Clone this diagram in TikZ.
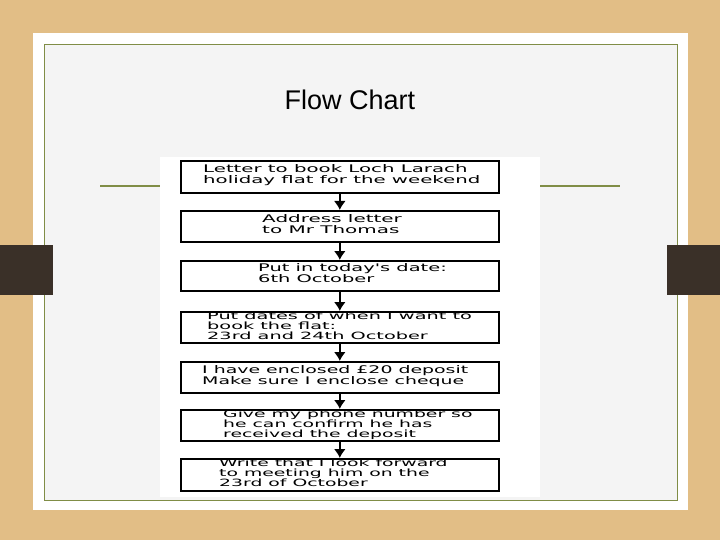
\documentclass[tikz,border=0pt]{standalone}
\usepackage{fontspec}
\usepackage{graphicx}
\usetikzlibrary{arrows.meta}
\setmainfont{Liberation Sans}
\newfontfamily\boxfont{DejaVu Sans}
\newcommand\ltxt[2]{\scalebox{#1}[1]{\begin{tabular}{@{}l@{}}#2\end{tabular}}}
\begin{document}
\begin{tikzpicture}[x=1pt,y=-1pt,
  stepbox/.style={draw=black,line width=1.6pt,minimum width=318pt,anchor=north west,inner sep=0pt},
  txt/.style={anchor=west,align=left,font=\boxfont\fontsize{10.5}{11}\selectfont,inner sep=0pt},
  txtt/.style={txt,font=\boxfont\fontsize{10}{8.8}\selectfont},
  arr/.style={-{Latex[length=9pt,width=12pt]},line width=2.2pt}]
\fill[color={rgb,255:red,226;green,190;blue,134}] (0,0) rectangle (720,540);
\fill[white] (33,33) rectangle (688,510);
\fill[color={rgb,255:red,244;green,244;blue,244}] (44,44) rectangle (677,500);
\draw[color={rgb,255:red,128;green,141;blue,70},line width=0.8pt] (44,44) rectangle (677,500);
\draw[color={rgb,255:red,128;green,141;blue,70},line width=1.6pt] (100,186) -- (620,186);
\fill[color={rgb,255:red,58;green,48;blue,40}] (0,245) rectangle (53,295);
\fill[color={rgb,255:red,58;green,48;blue,40}] (667,245) rectangle (720,295);
\node[anchor=center,font=\fontsize{27}{30}\selectfont] (title) at (350,100) {Flow Chart};
\fill[white] (160,157) rectangle (540,497);
\node[stepbox,minimum height=32pt] (b1) at (180,160) {};
\node[stepbox,minimum height=31pt] (b2) at (180,210) {};
\node[stepbox,minimum height=30pt] (b3) at (180,260) {};
\node[stepbox,minimum height=31pt] (b4) at (180,311) {};
\node[stepbox,minimum height=31pt] (b5) at (180,361) {};
\node[stepbox,minimum height=31pt] (b6) at (180,409) {};
\node[stepbox,minimum height=32pt] (b7) at (180,458) {};
\node[txt] (t1) at (203,176) {\ltxt{1.88}{Letter to book Loch Larach\\holiday flat for the weekend}};
\node[txt] (t2) at (262,226) {\ltxt{1.9}{Address letter\\to Mr Thomas}};
\node[txt] (t3) at (258,275) {\ltxt{1.85}{Put in today's date:\\6th October}};
\node[txtt] (t4) at (207,327) {\ltxt{1.93}{Put dates of when I want to\\book the flat:\\23rd and 24th October}};
\node[txt] (t5) at (202,377) {\ltxt{1.8}{I have enclosed £20 deposit\\Make sure I enclose cheque}};
\node[txtt] (t6) at (223,425) {\ltxt{1.88}{Give my phone number so\\he can confirm he has\\received the deposit}};
\node[txtt] (t7) at (219,474) {\ltxt{1.88}{Write that I look forward\\to meeting him on the\\23rd of October}};
\foreach \a/\b in {b1/b2,b2/b3,b3/b4,b4/b5,b5/b6,b6/b7}
  \draw[arr] (\a.south) -- (\b.north);
\end{tikzpicture}
\end{document}
